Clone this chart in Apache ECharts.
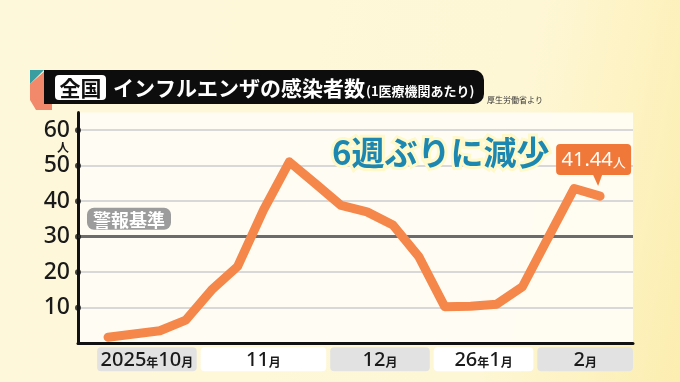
<!DOCTYPE html>
<html><head><meta charset="utf-8">
<script src="https://cdn.jsdelivr.net/npm/echarts@6/dist/echarts.min.js"></script>
<style>
html,body{margin:0;padding:0;}
#c{width:680px;height:382px;background:linear-gradient(100deg,#FEF8DB 0%,#FEF7D6 72%,#FCEEB0 100%);}
</style>
</head><body><div id="c"></div>
<script>
// ---- data ----
const weekLabels = ['10/5','10/12','10/19','10/26','11/2','11/9','11/16','11/23','11/30','12/7','12/14','12/21','12/28','1/4','1/11','1/18','1/25','2/1','2/8','2/15'];
const cases = [1.7, 2.6, 3.5, 6.5, 15.0, 21.6, 37.5, 51.1, 45.0, 38.8, 37.0, 33.3, 24.4, 10.3, 10.4, 11.0, 15.9, 29.8, 43.6, 41.44];
const yTicks = [10, 20, 30, 40, 50, 60];
const months = ['2025年10月', '11月', '12月', '26年1月', '2月'];
const monthStart = [0, 4, 9, 13, 17];
const monthEnd = [3, 8, 12, 16, 19];
const alertLevel = 30;
const alertLabel = '警報基準';
const headline = '6週ぶりに減少';

const XMIN = -1.16, XMAX = 20.27;
const FONT = '"Noto Sans CJK JP", "Noto Sans", sans-serif';

const chart = echarts.init(document.getElementById('c'), null, {renderer: 'canvas'});

function richMonth(s) {
  return s.replace(/(\d+)|([^\d]+)/g, (m, d, o) => d ? '{n|' + d + '}' : '{u|' + o + '}');
}

const last = cases.length - 1;

chart.setOption({
  animation: false,
  grid: {left: 78, right: 47, top: 112.5, bottom: 38.8, show: true, backgroundColor: 'rgba(255,253,245,0.92)', borderWidth: 0},
  xAxis: {
    type: 'value', min: XMIN, max: XMAX,
    axisLine: {show: true, lineStyle: {color: '#111', width: 3}},
    axisTick: {show: false}, axisLabel: {show: false}, splitLine: {show: false}
  },
  yAxis: {
    type: 'value', min: 0, max: 65, interval: 10,
    axisLine: {show: true, onZero: false, lineStyle: {color: '#111', width: 3}},
    axisTick: {show: false},
    axisLabel: {
      formatter: v => yTicks.includes(v) ? String(v) : '',
      color: '#1a1a1a', fontSize: 23, fontWeight: 500, fontFamily: '"Noto Sans", sans-serif', margin: 8
    },
    splitLine: {show: true, showMinLine: false, showMaxLine: false, lineStyle: {color: '#d8d8d8', width: 2}}
  },
  series: [
    {
      type: 'scatter', data: yTicks.map(v => [XMIN, v]), symbolSize: 6, clip: false, silent: true,
      itemStyle: {color: '#111'}, z: 6,
      markLine: {
        silent: true, symbol: 'none',
        lineStyle: {color: '#6b6b6b', width: 3, type: 'solid'},
        label: {
          show: true, position: 'insideStartTop', formatter: alertLabel,
          color: '#fff', backgroundColor: '#9c9c9c', borderRadius: 7,
          padding: [3, 6, 1, 6], fontSize: 18, fontWeight: 'bold', fontFamily: FONT, distance: [9, 7]
        },
        data: [{yAxis: alertLevel}]
      }
    },
    {
      type: 'line', data: cases.map((v, i) => [i, v]), symbol: 'none', z: 5,
      lineStyle: {color: '#F5874A', width: 9, cap: 'round', join: 'round'},
      markPoint: {
        symbol: 'path://M4,0 H71 Q75,0 75,4 V27 Q75,31 71,31 H46 L42,42 L37,31 H4 Q0,31 0,27 V4 Q0,0 4,0 Z',
        symbolSize: [75, 42], symbolOffset: [-6.5, -31],
        itemStyle: {color: '#F07838'},
        label: {
          show: true, position: 'inside', offset: [0, -5],
          formatter: p => '{a|' + p.value + '}{b|人}',
          rich: {
            a: {color: '#fff', fontSize: 20, fontFamily: '"Noto Sans", sans-serif'},
            b: {color: '#fff', fontSize: 13, fontFamily: FONT, padding: [4, 0, 0, 0]}
          }
        },
        data: [{coord: [last, cases[last]], value: cases[last]}]
      }
    },
    {
      type: 'custom', clip: false, silent: true,
      encode: {x: [0, 1], y: 2},
      data: months.map((m, i) => [monthStart[i], monthEnd[i], 0, i]),
      renderItem: (params, api) => {
        const i = api.value(3);
        const p0 = api.coord([api.value(0) - 0.5, 0]);
        const p1 = api.coord([api.value(1) + 0.5, 0]);
        const cs = params.coordSys;
        const x0 = p0[0] + 2;
        const x1 = (i === months.length - 1) ? cs.x + cs.width : p1[0] - 2;
        const y0 = p0[1] + 4;
        return {
          type: 'group',
          children: [
            {type: 'rect', shape: {x: x0, y: y0, width: x1 - x0, height: 24, r: 4},
             style: {fill: i % 2 === 0 ? '#E2E2E2' : '#FFFFFF'}},
            {type: 'text', style: {
              x: (x0 + x1) / 2, y: y0 + 13, text: richMonth(months[i]),
              align: 'center', verticalAlign: 'middle',
              rich: {
                n: {fontSize: 20, fontWeight: 500, fill: '#1a1a1a', fontFamily: '"Noto Sans", sans-serif'},
                u: {fontSize: 12, fontWeight: 'bold', fill: '#1a1a1a', fontFamily: FONT, padding: [5, 0, 0, 0]}
              }
            }}
          ]
        };
      }
    }
  ],
  graphic: [
    {type: 'polygon', shape: {points: [[30, 84], [46, 70], [52, 70], [52, 110], [36, 110], [30, 100]]}, style: {fill: '#F2896B'}},
    {type: 'polygon', shape: {points: [[30, 70], [44, 70], [30, 84]]}, style: {fill: '#3A9EA0'}},
    {type: 'rect', shape: {x: 44, y: 70, width: 440, height: 34, r: [0, 10, 10, 0]}, style: {fill: '#0d0d0d'}},
    {type: 'rect', shape: {x: 55, y: 75, width: 51, height: 25, r: 4}, style: {fill: '#ffffff'}},
    {type: 'text', x: 80.5, y: 88, style: {text: '全国', fill: '#111', font: 'bold 21px ' + FONT, align: 'center', verticalAlign: 'middle'}},
    {type: 'text', x: 113, y: 88, style: {text: 'インフルエンザの感染者数', fill: '#fff', font: 'bold 21px ' + FONT, verticalAlign: 'middle'}},
    {type: 'text', x: 366, y: 91, style: {text: '(1医療機関あたり)', fill: '#fff', font: 'bold 13px ' + FONT, verticalAlign: 'middle'}},
    {type: 'text', x: 487, y: 100, style: {text: '厚生労働省より', fill: '#333', font: '8px ' + FONT, verticalAlign: 'middle'}},
    {type: 'text', x: 63, y: 147, style: {text: '人', fill: '#1a1a1a', font: 'bold 12px ' + FONT, align: 'center', verticalAlign: 'middle'}},
    {type: 'text', x: 332, y: 152, z: 10, style: {text: headline, fill: '#1C88B2', stroke: '#FFF8C8', lineWidth: 6, font: 'bold 33px ' + FONT, verticalAlign: 'middle'}}
  ]
});
</script>
</body></html>
